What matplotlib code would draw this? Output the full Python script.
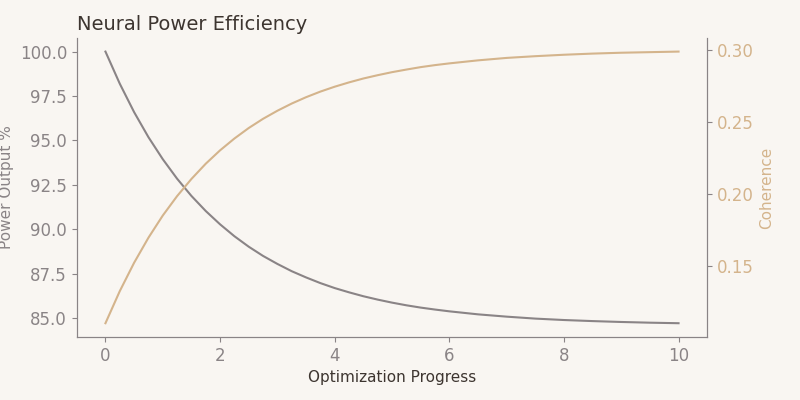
import matplotlib
matplotlib.use("Agg")
import matplotlib.pyplot as plt

# values
progress = [0, 0.25, 0.5, 0.75, 1, 1.25, 1.5, 1.75, 2, 2.25, 2.5, 2.75, 3,
            3.25, 3.5, 3.75, 4, 4.25, 4.5, 4.75, 5, 5.25, 5.5, 5.75, 6,
            6.5, 7, 7.5, 8, 8.5, 9, 9.5, 10]
power = [100.0, 98.19, 96.59, 95.18, 93.94, 92.84, 91.87, 91.02, 90.27, 89.60, 89.01, 88.49, 88.04,
         87.63, 87.28, 86.96, 86.68, 86.44, 86.22, 86.03, 85.86, 85.71, 85.58, 85.47, 85.37,
         85.20, 85.07, 84.96, 84.88, 84.82, 84.77, 84.73, 84.70]
coherence = [0.110, 0.1323, 0.152, 0.1694, 0.1848, 0.1983, 0.2102, 0.2208, 0.2301, 0.2383, 0.2456,
             0.2520, 0.2576, 0.2626, 0.2670, 0.2709, 0.2743, 0.2773, 0.2800, 0.2823, 0.2844,
             0.2862, 0.2879, 0.2893, 0.2905,
             0.2926, 0.2943, 0.2955, 0.2965, 0.2973, 0.2979, 0.2983, 0.2987]

bg = '#f9f6f2'
grey = '#8a8486'
tan = '#d4b48c'
dark = '#3d3530'

fig, ax = plt.subplots(figsize=(8, 4), dpi=100)
fig.patch.set_facecolor(bg)
ax.set_facecolor(bg)
fig.subplots_adjust(left=0.096, right=0.884, bottom=0.158, top=0.905)

ax.plot(progress, power, color=grey, lw=1.5)
ax2 = ax.twinx()
ax2.plot(progress, coherence, color=tan, lw=1.5)

ax.set_title("Neural Power Efficiency", loc='left', fontsize=14, color=dark)
ax.set_xlabel("Optimization Progress", fontsize=11, color=dark)
ax.set_ylabel("Power Output %", fontsize=11, color=grey)
ax2.set_ylabel("Coherence", fontsize=11, color=tan)

for a in (ax, ax2):
    a.spines['top'].set_visible(False)
    for s in ('left', 'right', 'bottom'):
        a.spines[s].set_color(grey)
ax.tick_params(axis='both', colors=grey, labelsize=12)
ax2.tick_params(axis='y', colors=grey, labelcolor=tan, labelsize=12)

fig.savefig("out.png", facecolor=bg)
